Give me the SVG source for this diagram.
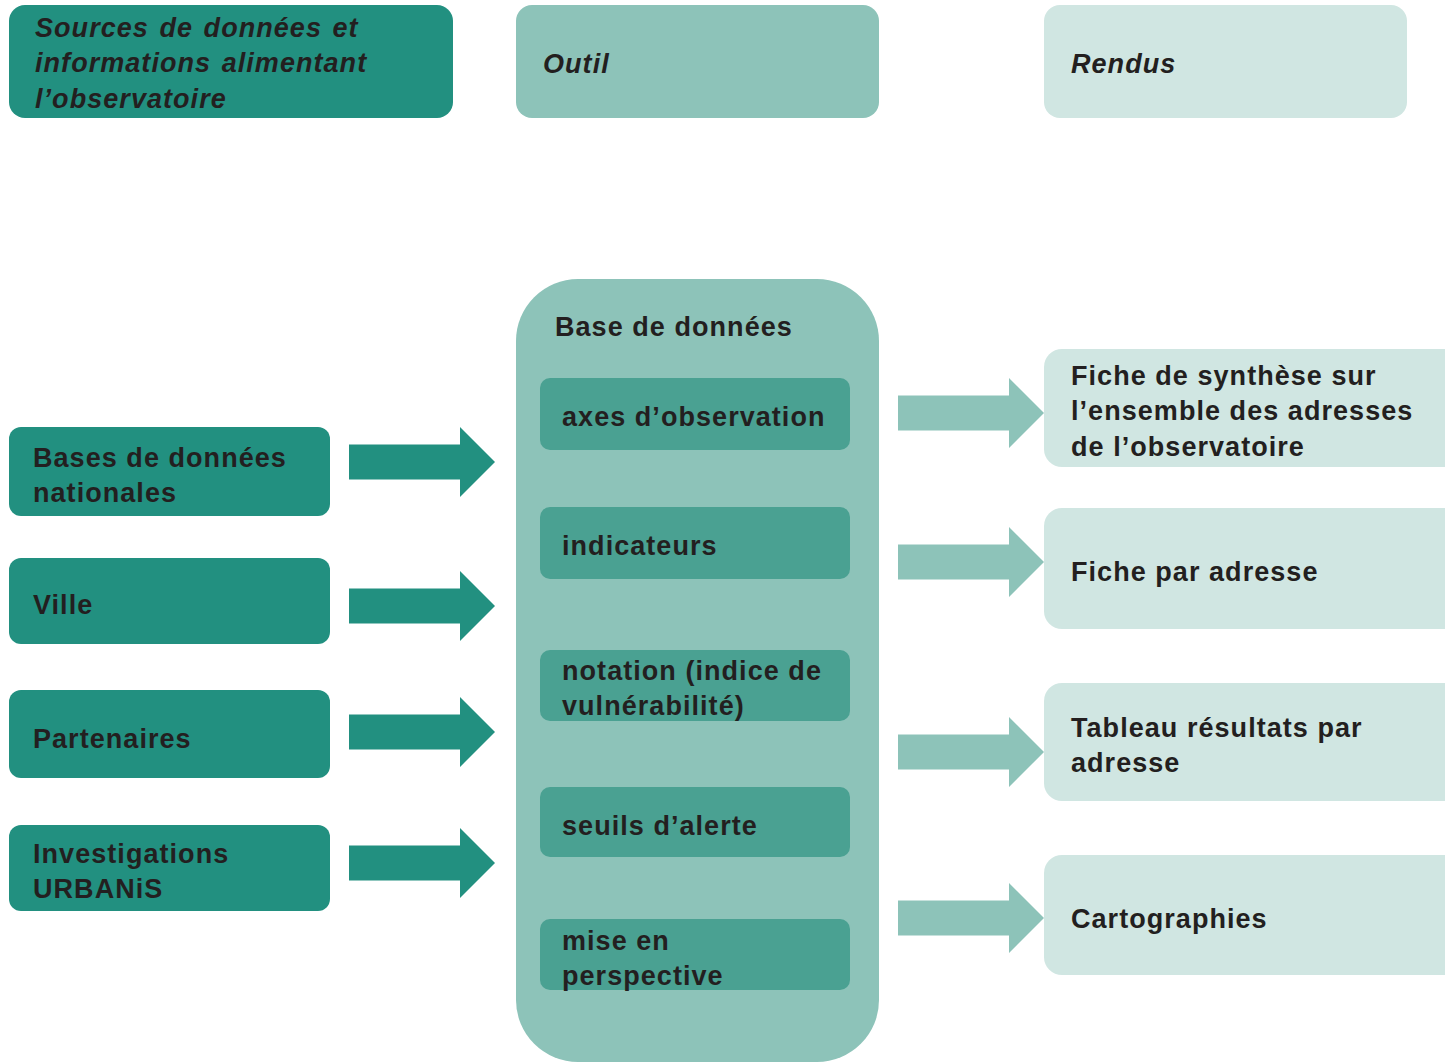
<svg xmlns="http://www.w3.org/2000/svg" width="1445" height="1062" viewBox="0 0 1445 1062">
<style>
text{font-family:"Liberation Sans",Arial,sans-serif;font-weight:bold;font-size:27px;fill:#231f20;letter-spacing:1.05px}
.it{font-style:italic;word-spacing:2px}
.dark{fill:#229080}
.mid{fill:#8dc3b9}
.light{fill:#d0e6e2}
.inner{fill:#4aa192}
</style>
<defs>
<path id="arr" d="M0,-17.5 H111 V-35 L146,0 L111,35 V17.5 H0 Z"/>
</defs>
<g id="h-sources"><rect class="dark" x="9" y="5" width="444" height="113" rx="16"/>
<text class="it" x="35" y="37">Sources de données et</text>
<text class="it" x="35" y="72">informations alimentant</text>
<text class="it" x="35" y="108">l’observatoire</text></g>
<g id="h-outil"><rect class="mid" x="516" y="5" width="363" height="113" rx="16"/>
<text class="it" x="543" y="73">Outil</text></g>
<g id="h-rendus"><rect class="light" x="1044" y="5" width="363" height="113" rx="16"/>
<text class="it" x="1071" y="73">Rendus</text></g>

<g id="outil"><rect class="mid" x="516" y="279" width="363" height="783" rx="62"/>
<text x="555" y="336">Base de données</text></g>
<g id="axes"><rect class="inner" x="540" y="378" width="310" height="72" rx="10"/><text x="562" y="426">axes d’observation</text></g>
<g id="indicateurs"><rect class="inner" x="540" y="507" width="310" height="72" rx="10"/><text x="562" y="555">indicateurs</text></g>
<g id="notation"><rect class="inner" x="540" y="650" width="310" height="71" rx="10"/><text x="562" y="680">notation (indice de</text><text x="562" y="715">vulnérabilité)</text></g>
<g id="seuils"><rect class="inner" x="540" y="787" width="310" height="70" rx="10"/><text x="562" y="835">seuils d’alerte</text></g>
<g id="mise"><rect class="inner" x="540" y="919" width="310" height="71" rx="10"/><text x="562" y="950">mise en</text><text x="562" y="985">perspective</text></g>

<g id="src-bdn"><rect class="dark" x="9" y="427" width="321" height="89" rx="12"/><text x="33" y="467">Bases de données</text><text x="33" y="502">nationales</text></g>
<g id="src-ville"><rect class="dark" x="9" y="558" width="321" height="86" rx="12"/><text x="33" y="614">Ville</text></g>
<g id="src-part"><rect class="dark" x="9" y="690" width="321" height="88" rx="12"/><text x="33" y="748">Partenaires</text></g>
<g id="src-inv"><rect class="dark" x="9" y="825" width="321" height="86" rx="12"/><text x="33" y="863">Investigations</text><text x="33" y="898">URBANiS</text></g>

<g id="r-fiche-synth"><rect class="light" x="1044" y="349" width="430" height="118" rx="18"/><text x="1071" y="385">Fiche de synthèse sur</text><text x="1071" y="420">l’ensemble des adresses</text><text x="1071" y="456">de l’observatoire</text></g>
<g id="r-fiche-adr"><rect class="light" x="1044" y="508" width="430" height="121" rx="18"/><text x="1071" y="581">Fiche par adresse</text></g>
<g id="r-tableau"><rect class="light" x="1044" y="683" width="430" height="118" rx="18"/><text x="1071" y="737">Tableau résultats par</text><text x="1071" y="772">adresse</text></g>
<g id="r-carto"><rect class="light" x="1044" y="855" width="430" height="120" rx="18"/><text x="1071" y="928">Cartographies</text></g>

<g id="connectors">
<use href="#arr" class="dark" x="349" y="462"/>
<use href="#arr" class="dark" x="349" y="606"/>
<use href="#arr" class="dark" x="349" y="732"/>
<use href="#arr" class="dark" x="349" y="863"/>
<use href="#arr" class="mid" x="898" y="413"/>
<use href="#arr" class="mid" x="898" y="562"/>
<use href="#arr" class="mid" x="898" y="752"/>
<use href="#arr" class="mid" x="898" y="918"/>
</g>
</svg>
